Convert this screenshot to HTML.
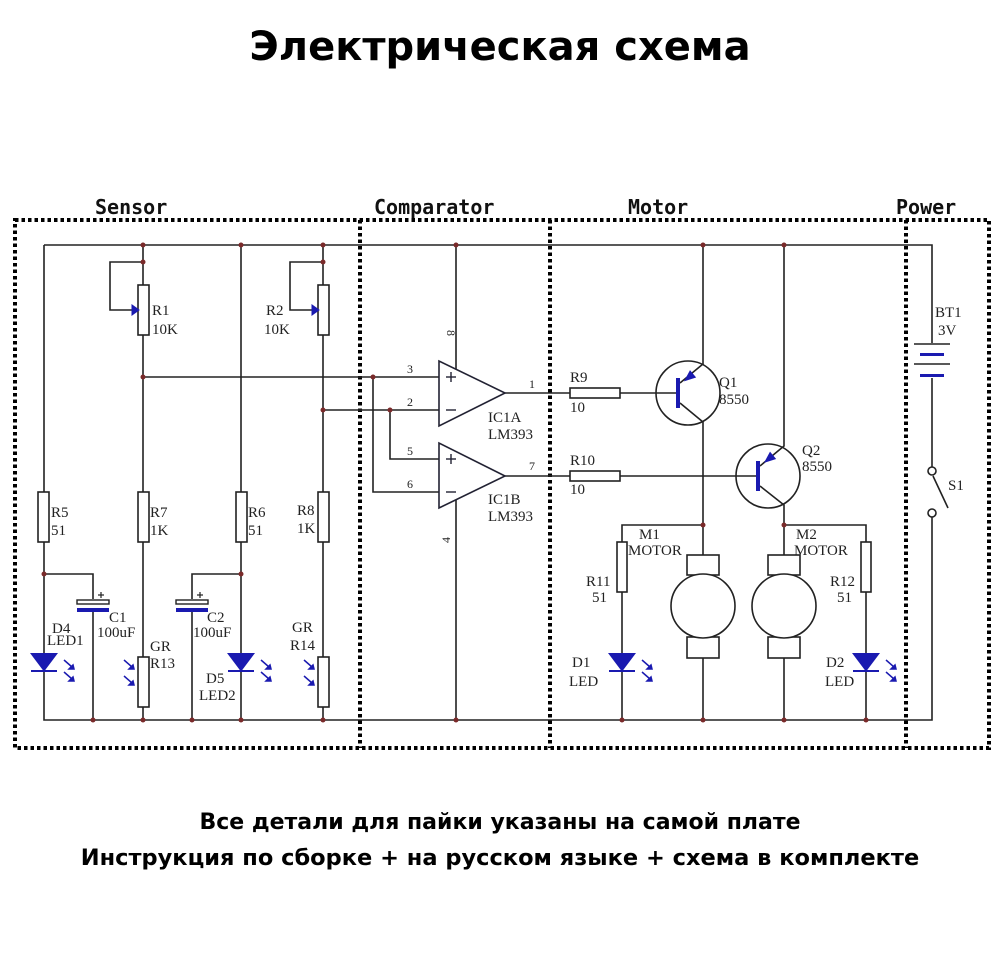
<!DOCTYPE html>
<html><head><meta charset="utf-8"><style>
html,body{margin:0;padding:0;background:#fff;}
body{width:1000px;height:979px;position:relative;overflow:hidden;}
.t{position:absolute;left:0;width:1000px;text-align:center;font-family:"DejaVu Sans","Liberation Sans",sans-serif;font-weight:bold;color:#000;white-space:nowrap;}
svg{position:absolute;left:0;top:0;}
</style></head><body>
<div class="t" style="top:24px;font-size:40px;">Электрическая схема</div>
<div class="t" style="top:810px;font-size:22px;">Все детали для пайки указаны на самой плате</div>
<div class="t" style="top:845px;font-size:22.5px;">Инструкция по сборке + на русском языке + схема в комплекте</div>
<svg width="1000" height="979" viewBox="0 0 1000 979" xmlns="http://www.w3.org/2000/svg">
<g font-family="DejaVu Sans Mono, Liberation Mono, monospace" font-weight="bold" font-size="20" fill="#111">
<text x="95" y="214">Sensor</text>
<text x="374" y="214">Comparator</text>
<text x="628" y="214">Motor</text>
<text x="896" y="214">Power</text>
</g>
<g stroke="#000" stroke-width="4" stroke-dasharray="3.5 3" fill="none">
<rect x="15" y="220" width="974" height="528"/>
<line x1="360" y1="220" x2="360" y2="748"/>
<line x1="550" y1="220" x2="550" y2="748"/>
<line x1="906" y1="220" x2="906" y2="748"/>
</g>
<g stroke="#222" stroke-width="1.6" fill="none">
<polyline points="44,245 932,245 932,343"/>
<polyline points="932,378 932,468"/>
<polyline points="932,515 932,720 44,720 44,671"/>
<line x1="44" y1="245" x2="44" y2="492"/><line x1="44" y1="542" x2="44" y2="653"/>
<polyline points="44,574 93,574 93,599"/><line x1="93" y1="612" x2="93" y2="720"/>
<line x1="143" y1="245" x2="143" y2="285"/><polyline points="143,262 110,262 110,310 132,310"/>
<line x1="143" y1="335" x2="143" y2="492"/><line x1="143" y1="542" x2="143" y2="657"/><line x1="143" y1="707" x2="143" y2="720"/>
<polyline points="241,574 192,574 192,599"/><line x1="192" y1="612" x2="192" y2="720"/>
<line x1="241" y1="245" x2="241" y2="492"/><line x1="241" y1="542" x2="241" y2="653"/><line x1="241" y1="671" x2="241" y2="720"/>
<line x1="323" y1="245" x2="323" y2="285"/><polyline points="323,262 290,262 290,310 312,310"/>
<line x1="323" y1="335" x2="323" y2="492"/><line x1="323" y1="542" x2="323" y2="657"/><line x1="323" y1="707" x2="323" y2="720"/>
<line x1="143" y1="377" x2="439" y2="377"/>
<line x1="323" y1="410" x2="439" y2="410"/>
<polyline points="373,377 373,492 439,492"/>
<polyline points="390,410 390,459 439,459"/>
<line x1="456" y1="245" x2="456" y2="369"/>
<line x1="456" y1="500" x2="456" y2="720"/>
<line x1="505" y1="393" x2="570" y2="393"/>
<line x1="505" y1="476" x2="570" y2="476"/>
<line x1="620" y1="393" x2="678" y2="393"/>
<line x1="620" y1="476" x2="758" y2="476"/>
<polyline points="703,245 703,364 680,383"/>
<polyline points="680,403 703,422 703,555"/>
<line x1="703" y1="658" x2="703" y2="720"/>
<polyline points="703,525 622,525 622,542"/><line x1="622" y1="592" x2="622" y2="653"/><line x1="622" y1="671" x2="622" y2="720"/>
<polyline points="784,245 784,446 760,466"/>
<polyline points="760,486 784,505 784,555"/>
<line x1="784" y1="658" x2="784" y2="720"/>
<polyline points="784,525 866,525 866,542"/><line x1="866" y1="592" x2="866" y2="653"/><line x1="866" y1="671" x2="866" y2="720"/>
<line x1="933" y1="476" x2="948" y2="508"/>
</g>
<g stroke="#222" stroke-width="1.6" fill="#fff">
<rect x="38" y="492" width="11" height="50"/><rect x="138" y="492" width="11" height="50"/>
<rect x="236" y="492" width="11" height="50"/><rect x="318" y="492" width="11" height="50"/>
<rect x="138" y="285" width="11" height="50"/><rect x="318" y="285" width="11" height="50"/>
<rect x="138" y="657" width="11" height="50"/><rect x="318" y="657" width="11" height="50"/>
<rect x="570" y="388" width="50" height="10"/><rect x="570" y="471" width="50" height="10"/>
<rect x="617" y="542" width="10" height="50"/><rect x="861" y="542" width="10" height="50"/>
<circle cx="688" cy="393" r="32" fill="none"/><circle cx="768" cy="476" r="32" fill="none"/>
<rect x="687" y="555" width="32" height="20"/><rect x="687" y="637" width="32" height="21"/>
<circle cx="703" cy="606" r="32"/>
<rect x="768" y="555" width="32" height="20"/><rect x="768" y="637" width="32" height="21"/>
<circle cx="784" cy="606" r="32"/>
<circle cx="932" cy="471" r="4"/><circle cx="932" cy="513" r="4"/>
</g>
<g stroke="#223" stroke-width="1.6" fill="#fff">
<polygon points="439,361 439,426 505,393"/>
<polygon points="439,443 439,508 505,476"/>
</g>
<g stroke="#223" stroke-width="1.4">
<line x1="446" y1="377" x2="456" y2="377"/><line x1="451" y1="372" x2="451" y2="382"/>
<line x1="446" y1="410" x2="456" y2="410"/>
<line x1="446" y1="459" x2="456" y2="459"/><line x1="451" y1="454" x2="451" y2="464"/>
<line x1="446" y1="492" x2="456" y2="492"/>
</g>
<g fill="#1a1ab0" stroke="#1a1ab0">
<polygon points="132,305 132,315 139,310"/><polygon points="312,305 312,315 319,310"/>
<rect x="77" y="608" width="32" height="4" stroke="none"/>
<rect x="176" y="608" width="32" height="4" stroke="none"/>
<rect x="676" y="378" width="4" height="30" stroke="none"/>
<rect x="756" y="461" width="4" height="30" stroke="none"/>
<polygon points="685,380.5 695.3,377.2 690.1,371"/>
<polygon points="765,462 775.3,458.7 770.1,452.5"/>
<rect x="920" y="353" width="24" height="3" stroke="none"/>
<rect x="920" y="374" width="24" height="3" stroke="none"/>
</g>
<g stroke="#222" stroke-width="1.4" fill="#fff">
<rect x="77" y="600" width="32" height="4"/><rect x="176" y="600" width="32" height="4"/>
<line x1="914" y1="344" x2="950" y2="344"/><line x1="914" y1="364" x2="950" y2="364"/>
</g>
<g stroke="#222" stroke-width="1.2"><line x1="101" y1="592" x2="101" y2="598"/><line x1="98" y1="595" x2="104" y2="595"/>
<line x1="200" y1="592" x2="200" y2="598"/><line x1="197" y1="595" x2="203" y2="595"/></g>
<g fill="#1a1ab0" stroke="#1a1ab0" stroke-width="2">
<polygon points="32,654 56,654 44,670"/><line x1="31" y1="671" x2="57" y2="671"/>
<polygon points="229,654 253,654 241,670"/><line x1="228" y1="671" x2="254" y2="671"/>
<polygon points="610,654 634,654 622,670"/><line x1="609" y1="671" x2="635" y2="671"/>
<polygon points="854,654 878,654 866,670"/><line x1="853" y1="671" x2="879" y2="671"/>
</g>
<g stroke="#1a1ab0" stroke-width="1.5" fill="#1a1ab0">
<path d="M64,660 l8,7 M64,672 l8,7 M261,660 l8,7 M261,672 l8,7 M642,660 l8,7 M642,672 l8,7 M886,660 l8,7 M886,672 l8,7 M124,660 l8,7 M124,676 l8,7 M304,660 l8,7 M304,676 l8,7"/>
<path d="M74,669 l-5,0 l4,-4z M74,681 l-5,0 l4,-4z M271,669 l-5,0 l4,-4z M271,681 l-5,0 l4,-4z M652,669 l-5,0 l4,-4z M652,681 l-5,0 l4,-4z M896,669 l-5,0 l4,-4z M896,681 l-5,0 l4,-4z M134,669 l-5,0 l4,-4z M134,685 l-5,0 l4,-4z M314,669 l-5,0 l4,-4z M314,685 l-5,0 l4,-4z"/>
</g>
<g fill="#7a2a2a">
<circle cx="143" cy="245" r="2.5"/><circle cx="241" cy="245" r="2.5"/><circle cx="323" cy="245" r="2.5"/>
<circle cx="143" cy="262" r="2.5"/><circle cx="323" cy="262" r="2.5"/><circle cx="143" cy="377" r="2.5"/>
<circle cx="323" cy="410" r="2.5"/><circle cx="44" cy="574" r="2.5"/><circle cx="241" cy="574" r="2.5"/>
<circle cx="93" cy="720" r="2.5"/><circle cx="143" cy="720" r="2.5"/><circle cx="192" cy="720" r="2.5"/>
<circle cx="241" cy="720" r="2.5"/><circle cx="323" cy="720" r="2.5"/><circle cx="373" cy="377" r="2.5"/>
<circle cx="390" cy="410" r="2.5"/><circle cx="456" cy="245" r="2.5"/><circle cx="456" cy="720" r="2.5"/>
<circle cx="703" cy="245" r="2.5"/><circle cx="784" cy="245" r="2.5"/><circle cx="703" cy="525" r="2.5"/>
<circle cx="784" cy="525" r="2.5"/><circle cx="622" cy="720" r="2.5"/><circle cx="703" cy="720" r="2.5"/>
<circle cx="784" cy="720" r="2.5"/><circle cx="866" cy="720" r="2.5"/>
</g>
<g font-family="Liberation Serif, serif" font-size="15" fill="#222">
<text x="152" y="315">R1</text><text x="152" y="334">10K</text>
<text x="266" y="315">R2</text><text x="264" y="334">10K</text>
<text x="51" y="517">R5</text><text x="51" y="535">51</text>
<text x="150" y="517">R7</text><text x="150" y="535">1K</text>
<text x="248" y="517">R6</text><text x="248" y="535">51</text>
<text x="297" y="515">R8</text><text x="297" y="533">1K</text>
<text x="109" y="622">C1</text><text x="97" y="637">100uF</text>
<text x="207" y="622">C2</text><text x="193" y="637">100uF</text>
<text x="52" y="633">D4</text><text x="47" y="645">LED1</text>
<text x="150" y="651">GR</text><text x="150" y="668">R13</text>
<text x="292" y="632">GR</text><text x="290" y="650">R14</text>
<text x="206" y="683">D5</text><text x="199" y="700">LED2</text>
<g font-size="12"><text x="407" y="373">3</text><text x="407" y="406">2</text><text x="407" y="455">5</text><text x="407" y="488">6</text>
<text x="529" y="388">1</text><text x="529" y="470">7</text>
<text x="452" y="335" transform="rotate(90 452 330)">8</text><text x="440" y="543" transform="rotate(-90 445 538)">4</text></g>
<text x="488" y="422">IC1A</text><text x="488" y="439">LM393</text>
<text x="488" y="504">IC1B</text><text x="488" y="521">LM393</text>
<text x="570" y="382">R9</text><text x="570" y="412">10</text>
<text x="570" y="465">R10</text><text x="570" y="494">10</text>
<text x="719" y="387">Q1</text><text x="719" y="404">8550</text>
<text x="802" y="455">Q2</text><text x="802" y="471">8550</text>
<text x="639" y="539">M1</text><text x="628" y="555">MOTOR</text>
<text x="796" y="539">M2</text><text x="794" y="555">MOTOR</text>
<text x="586" y="586">R11</text><text x="592" y="602">51</text>
<text x="830" y="586">R12</text><text x="837" y="602">51</text>
<text x="572" y="667">D1</text><text x="569" y="686">LED</text>
<text x="826" y="667">D2</text><text x="825" y="686">LED</text>
<text x="935" y="317">BT1</text><text x="938" y="335">3V</text>
<text x="948" y="490">S1</text>
</g>
</svg>
</body></html>
